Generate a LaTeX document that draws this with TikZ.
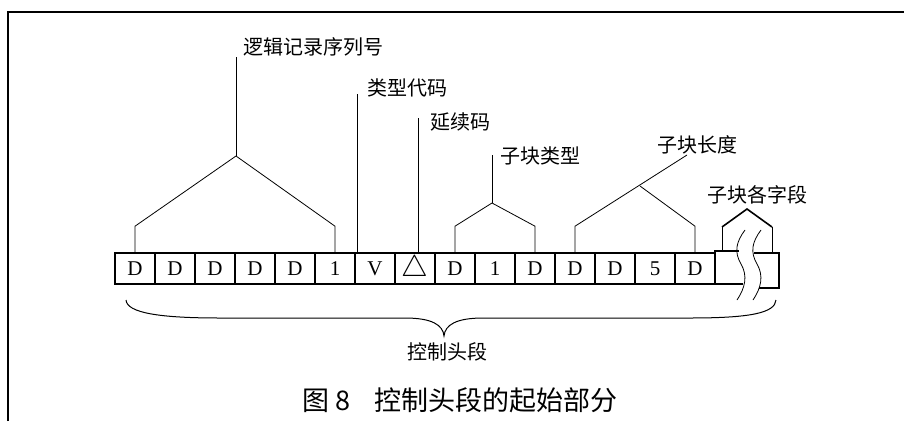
\documentclass[tikz,border=0pt]{standalone}
\usepackage{fontspec}
\setmainfont{Liberation Serif}
\newfontfamily\cjk{Noto Sans CJK SC}
\usetikzlibrary{calc}

\begin{document}
\begin{tikzpicture}[x=1pt,y=-1pt,
    cell/.style={draw,line width=1.6pt,minimum width=40pt,minimum height=31pt,
      inner sep=0pt,font=\fontsize{21}{21}\selectfont},
    lbl/.style={font=\cjk\fontsize{20}{20}\selectfont,inner sep=0pt},
    lead/.style={line width=0.8pt}]
        \useasboundingbox (0,0) rectangle (904,421);

        % frame of the page
        \draw [line width=1.8pt] (8,421) -- (8,12) -- (904,12);

        % header cells
        \foreach \i / \txt in {1/D, 2/D, 3/D, 4/D, 5/D, 6/1, 7/V, 8/{\raisebox{-2pt}{\scalebox{1.45}{$\bigtriangleup$}}},
            9/D, 10/{\raisebox{-3pt}{1}}, 11/D, 12/D, 13/D, 14/{\raisebox{-3pt}{5}}, 15/D}{
          \node[cell] (c\i) at ({95 + 40 * \i}, 268.5) {\txt};
        }

        % broken last cell
        \coordinate (w1) at (745,230);
        \coordinate (w2) at (761,230);
        \draw [line width=1.6pt] (739,251) -- (715,251) -- (715,284) -- (743,284);
        \draw [line width=1.2pt] (754,253) -- (779,253) -- (779,288) -- (759,288);
        \foreach \w in {w1, w2}{
          \draw [line width=0.8pt] (\w) .. controls ++(-9,12) and ++(-7,-12) .. ++(-4,34)
            .. controls ++(7,12) and ++(8,-12) .. ++(-4,36);
        }

        % labels
        \node[lbl,anchor=west] (seqlbl) at (243,47) {逻辑记录序列号};
        \node[lbl,anchor=west] (typelbl) at (367,88) {类型代码};
        \node[lbl,anchor=west] (contlbl) at (430,122) {延续码};
        \node[lbl,anchor=west] (sublbl) at (500,156) {子块类型};
        \node[lbl,anchor=west] (lenlbl) at (657,145) {子块长度};
        \node[lbl,anchor=west] (fldlbl) at (707,195) {子块各字段};

        % logical record sequence
        \coordinate (seqapex) at (236,156);
        \draw [lead] (c1.north) -- ++(0,-26) -- (seqapex) -- ($(c6.north)+(0,-26)$) -- (c6.north);
        \draw [lead] (seqapex) -- (seqapex |- seqlbl.south);

        % type code, continuation code
        \draw [lead] ($(c7.north west)+(3,0)$) -- ++(0,-158);
        \draw [lead] ($(c8.north)+(3,0)$) -- ++(0,-134);

        % sub-block type
        \coordinate (subapex) at (492,203);
        \draw [lead] (c9.north) -- ++(0,-26) -- (subapex) -- ($(c11.north)+(0,-26)$) -- (c11.north);
        \draw [lead] (subapex) -- ++(0,-48);

        % sub-block length
        \coordinate (lenapex) at (640,186);
        \coordinate (lentip) at (687,155);
        \draw [lead] (c12.north) -- ++(0,-26) -- (lentip);
        \draw [lead] (lenapex) -- ($(c15.north)+(0,-26)$) -- (c15.north);

        % sub-block fields
        \coordinate (fa) at (722,227);
        \coordinate (fb) at (772,227);
        \draw [lead] (722,251) -- (fa);
        \draw [lead] (772,253) -- (fb);
        \draw [line width=1.6pt] (fa) -- (747,209) -- (fb);

        % brace under the header
        \coordinate (bl) at (126,300);
        \coordinate (btip) at (444,336);
        \coordinate (br) at (776,300);
        \draw [line width=1pt] (bl) .. controls (127,313) and (160,318) .. (220,318)
          -- (405,318) .. controls (432,318) and (443,325) .. (btip)
          .. controls (445,325) and (456,318) .. (483,318)
          -- (690,318) .. controls (750,318) and (775,313) .. (br);
        \node[lbl] (hdrlbl) at (447,352) {控制头段};

        \node[font=\cjk\fontsize{27}{27}\selectfont,inner sep=0pt,anchor=west] (caption) at (302,400)
          {图 8\hspace{24pt}控制头段的起始部分};
\end{tikzpicture}
\end{document}
